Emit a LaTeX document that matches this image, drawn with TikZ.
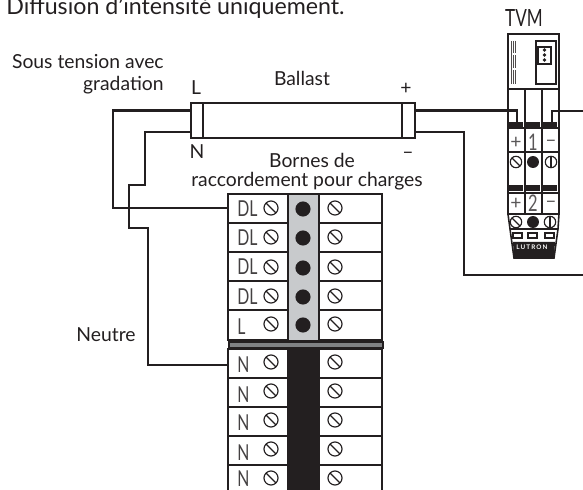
\documentclass[tikz,border=0pt]{standalone}
\usepackage{fontspec}
\setmainfont{Lato}
\newfontfamily\termfont[FakeStretch=0.72]{Lato}
\definecolor{inkblack}{HTML}{231F20}
\definecolor{railgray}{HTML}{C8CACC}
\definecolor{bargray}{HTML}{808284}
\tikzset{
    wire/.style={draw=inkblack,line width=1.2pt},
    outline/.style={draw=inkblack,line width=0.9pt,fill=white,inner sep=0pt,outer sep=0pt},
    caption/.style={text=inkblack,font=\fontsize{11}{13}\selectfont,inner sep=0pt},
    termtext/.style={text=inkblack!85,font=\termfont\fontsize{12.5}{14}\selectfont,inner sep=0pt},
    tvmtext/.style={text=inkblack!75,font=\fontsize{11}{12}\selectfont,inner sep=0pt},
    cell/.style={outline,line width=1.05pt,minimum height=0.58cm,anchor=north west},
    leftcell/.style={cell,minimum width=1.2cm},
    rightcell/.style={cell,minimum width=1.26cm},
    screw/.style={circle,draw=inkblack,line width=0.65pt,fill=white,minimum size=8pt,inner sep=0pt,
        path picture={\draw[inkblack,line width=0.65pt] (path picture bounding box.north west)--(path picture bounding box.south east);}},
    tinyscrew/.style={screw,minimum size=6.5pt},
    vertscrew/.style={circle,draw=inkblack,line width=0.65pt,fill=white,minimum size=6.5pt,inner sep=0pt,
        path picture={\draw[inkblack,line width=0.65pt] (path picture bounding box.north)--(path picture bounding box.south);}},
    stud/.style={circle,fill=inkblack,minimum size=8.6pt,inner sep=0pt},
    tinystud/.style={stud,minimum size=6.8pt},
    solid/.style={fill=inkblack,inner sep=0pt,outer sep=0pt,anchor=north west},
}
\begin{document}
\begin{tikzpicture}[x=0.02cm,y=-0.02cm]
    \useasboundingbox (0,0) rectangle (583,490);
    \begin{scope}
    \clip (0,0) rectangle (583,490);
    \node[caption,font=\fontsize{13.2}{15}\selectfont,anchor=base west] (title) at (6,14) {Diffusion d’intensité uniquement.};
    \node[caption,anchor=base east] (sous) at (164,69) {Sous tension avec};
    \node[caption,anchor=base east] (grad) at (164,91) {gradation};
    \node[caption,anchor=base] (ballastlab) at (302,86) {Ballast};
    \node[caption,anchor=base] (llab) at (196,94) {L};
    \node[caption,anchor=base] (nlab) at (197,158) {N};
    \node[caption,anchor=base] (pluslab) at (406,94) {+};
    \node[caption,anchor=base] (minuslab) at (408,158) {–};
    \node[caption,anchor=base] (bornes) at (312,168) {Bornes de};
    \node[caption,anchor=base] (racc) at (307,187) {raccordement pour charges};
    \node[caption,anchor=base] (neutre) at (106,341) {Neutre};
    \node[caption,font=\termfont\fontsize{13.5}{15}\selectfont,anchor=base] (tvmlab) at (524,27) {TVM};

    % ballast
    \node[outline,minimum width=4.48cm,minimum height=0.7cm,anchor=north west] (tube) at (191,103) {};
    \node[outline,minimum width=0.24cm,minimum height=0.7cm,anchor=north west] (capl) at (191,103) {};
    \node[outline,minimum width=0.26cm,minimum height=0.7cm,anchor=north west] (capr) at (402,103) {};
    \coordinate (lpin) at (191,110.5);
    \coordinate (npin) at (191,132);
    \coordinate (ppin) at (415,110.5);
    \coordinate (mpin) at (415,132);

    % terminal block
    \foreach \i/\y/\t/\b/\s in {1/194/DL/216/208,2/223/DL/246/237,3/252/DL/275/267,4/281/DL/305/296,5/310/L/335/324}{
        \node[leftcell,minimum height=0.6cm] (lc\i) at (228,\y) {};
        \node[rightcell,minimum height=0.6cm] (rc\i) at (319,\y) {};
        \node[termtext,anchor=base west] (lt\i) at (237,\b) {\t};
        \node[screw] (ls\i) at (271,\s) {};
        \node[screw] (rs\i) at (335,\s) {};
    }
    \node[draw=inkblack,line width=1.1pt,fill=railgray,minimum width=0.6cm,minimum height=2.94cm,inner sep=0pt,outer sep=0pt,anchor=north west] (rail) at (288.5,194) {};
    \foreach \i/\s in {1/209,2/238,3/268,4/297,5/325}
        \node[stud] (st\i) at (303,\s) {};
    \node[draw=inkblack,line width=1pt,fill=bargray,minimum width=3.08cm,minimum height=0.13cm,inner sep=0pt,anchor=north west] (bar) at (228,341) {};
    \foreach \i/\y/\b/\s in {1/349/373/362,2/378/402/391,3/407/431/420,4/436/460/449,5/465/487/478}{
        \node[leftcell] (nc\i) at (228,\y) {};
        \node[rightcell] (mc\i) at (319,\y) {};
        \node[termtext,anchor=base west] (nt\i) at (237,\b) {N};
        \node[screw] (ns\i) at (271,\s) {};
        \node[screw] (ms\i) at (335,\s) {};
    }
    \node[solid,minimum width=0.62cm,minimum height=2.9cm] (blackrail) at (288,347) {};

    % tvm
    \node[outline,minimum width=1.02cm,minimum height=3.6cm,anchor=north west] (tvmbody) at (508,34) {};
    \node[outline,minimum width=1.02cm,minimum height=1.1cm,anchor=north west] (tvmcap) at (508,34) {};
    \node[outline,line width=0.8pt,minimum width=0.4cm,minimum height=0.86cm,anchor=north west] (window) at (536,41) {};
    \node[outline,line width=0.8pt,minimum width=0.26cm,minimum height=0.34cm,anchor=north west] (innerwin) at (538,47) {};
    \foreach \y in {50,55,60}
        \node[circle,fill=inkblack,minimum size=2pt,inner sep=0pt] (dot\y) at (544.5,\y) {};
    \foreach \x/\w in {511/0.4pt,513/0.4pt,515/0.5pt}
        \draw[inkblack!80,line width=\w] (\x,41) -- (\x,84);
    \fill[white] (512,53) rectangle (517,55);
    \fill[white] (512,68) rectangle (517,70);
    \draw[wire] (525,89) -- (525,214) (542,89) -- (542,214);
    \draw[wire] (508,128) -- (559,128) (508,152) -- (559,152) (508,193) -- (559,193);
    \foreach \x/\n in {509.5/a,526.5/b,543.5/c}{
        \node[solid,minimum width=0.28cm,minimum height=0.12cm] (bar\n) at (\x,122) {};
        \node[solid,minimum width=0.28cm,minimum height=0.12cm] (low\n) at (\x,185) {};
    }
    \node[tvmtext] (pa) at (516,143) {+};
    \node[tvmtext,font=\termfont\fontsize{13}{14}\selectfont] (one) at (533,142) {1};
    \node[tvmtext] (ma) at (551,143) {–};
    \node[tvmtext] (pb) at (516,204) {+};
    \node[tvmtext,font=\termfont\fontsize{13}{14}\selectfont] (two) at (533,203) {2};
    \node[tvmtext] (mb) at (551,204) {–};
    \node[tinyscrew] (sa) at (516,162) {};
    \node[tinystud] (sb) at (533,162) {};
    \node[vertscrew] (sc) at (551,162) {};
    % base of the tvm
    \draw[outline] (508,214) -- (559,214) -- (558,229) -- (554,258) -- (514,258) -- (510,229) -- cycle;
    \draw[wire] (510,229) -- (558,229);
    \node[tinyscrew] (sd) at (516,222) {};
    \node[tinystud] (se) at (533,222) {};
    \node[vertscrew] (sf) at (550,222) {};
    \foreach \x/\n in {513/a,528/b,545/c}
        \node[outline,line width=0.6pt,minimum width=0.18cm,minimum height=0.1cm,anchor=north west] (slot\n) at (\x,233) {};
    \fill[inkblack] (513,242) -- (555,242) -- (554,258) -- (514,258) -- cycle;
    \node[text=white,font=\bfseries\fontsize{3.6}{4}\selectfont,inner sep=0pt,anchor=west] (brand) at (516,247) {L\,U\,T\,R\,O\,N};

    % wires
    \coordinate (dlin) at (228,208);
    \coordinate (nin) at (228,365);
    \coordinate (tvmp) at (517,122);
    \coordinate (tvmm) at (552,122);
    \coordinate (farp) at (583,111);
    \coordinate (farm) at (583,275);
    \draw[wire] (lpin) -| (113,208) -- (dlin);
    \draw[wire] (npin) -| (145,185) -| (129,228) -| (148,365) -- (nin);
    \draw[wire] (ppin) -| (tvmp);
    \draw[wire] (farp) -| (tvmm);
    \draw[wire] (mpin) -| (464,275) -- (farm);
    \end{scope}
\end{tikzpicture}
\end{document}
